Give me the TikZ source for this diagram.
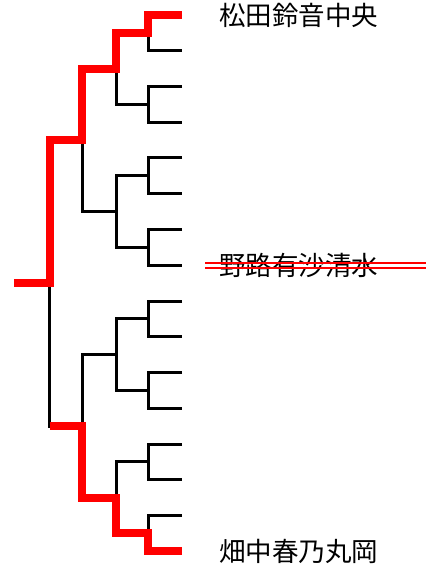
\documentclass[tikz,border=0pt]{standalone}
\usepackage{fontspec}
\newfontfamily\jpfont{Noto Sans CJK JP}
\tikzset{game/.style={line width=3pt,black},
  win/.style={line width=8pt,red},
  player/.style={anchor=west,inner sep=0pt,font=\jpfont\fontsize{26.5}{30}\selectfont},
  strike/.style={line width=2pt,red}}

\begin{document}
\begin{tikzpicture}[x=1pt,y=-1pt]
  \useasboundingbox (0,0) rectangle (443,569);
  \foreach \i in {1,...,16} \coordinate (L\i) at (182,{15+(\i-1)*35.75});
  \foreach \i in {1,...,8} \coordinate (A\i) at (148,{15+(2*\i-1.5)*35.75});
  \foreach \i in {1,...,4} \coordinate (B\i) at (116,{15+(4*\i-2.5)*35.75});
  \foreach \i in {1,2} \coordinate (C\i) at (82,{15+(8*\i-4.5)*35.75});
  \coordinate (D1) at (49.5,{15+7.5*35.75});
  \coordinate (root) at (14,{15+7.5*35.75});
  \foreach \i [evaluate=\i as \j using int(2*\i-1), evaluate=\i as \k using int(2*\i)] in {1,...,8}
    \draw[game] (L\j) -| (A\i) |- (L\k);
  \foreach \i [evaluate=\i as \j using int(2*\i-1), evaluate=\i as \k using int(2*\i)] in {1,...,4}
    \draw[game] (A\j) -| (B\i) |- (A\k);
  \foreach \i [evaluate=\i as \j using int(2*\i-1), evaluate=\i as \k using int(2*\i)] in {1,2}
    \draw[game] (B\j) -| (C\i) |- (B\k);
  \draw[game] (C1) -| (D1) |- (C2);
  \draw[game] (D1) -- (root);
  \draw[win] (root) -- (D1) |- (C1) |- (B1) |- (A1) |- (L1);
  \draw[win] (D1 |- C2) -- (C2) |- (B4) |- (A8) |- (L16);
  \node[player] (top) at ([xshift=37pt]L1) {松田鈴音中央};
  \node[player] (out) at ([xshift=37pt]L8) {野路有沙清水};
  \node[player] (bottom) at ([xshift=37pt]L16) {畑中春乃丸岡};
  \draw[strike] ([xshift=-14pt,yshift=2.5pt]out.west) -- ([xshift=48pt,yshift=2.5pt]out.east);
  \draw[strike] ([xshift=-14pt,yshift=-2.5pt]out.west) -- ([xshift=48pt,yshift=-2.5pt]out.east);
\end{tikzpicture}
\end{document}
